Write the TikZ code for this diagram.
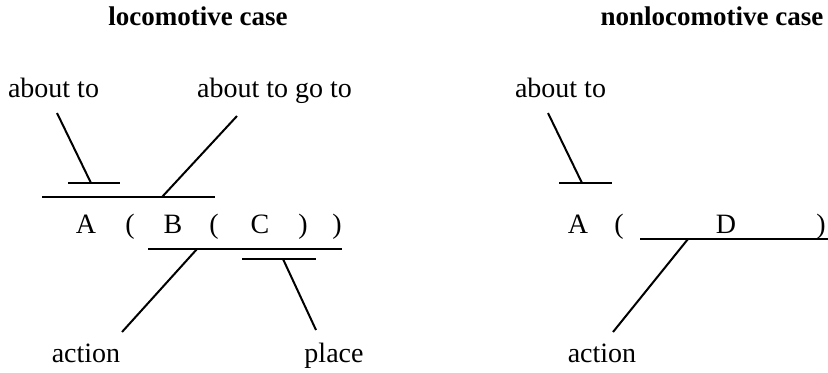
\documentclass[tikz,border=0pt]{standalone}
\usepackage{fontspec}
\setmainfont{Liberation Serif}
\tikzset{
  word/.style={anchor=base, inner sep=0pt, font=\fontsize{14}{16}\selectfont},
  head/.style={anchor=base, inner sep=0pt, font=\fontsize{13.5}{16}\selectfont\bfseries},
  bar/.style={line width=1pt},
}
\begin{document}
\begin{tikzpicture}[x=0.5pt, y=-0.5pt]
    \useasboundingbox (0,0) rectangle (828,372);
    \clip (0,0) rectangle (828,372);

    % Titles
    \node[head] (locT) at (198,25) {locomotive case};
    \node[head] (nonT) at (712,25) {nonlocomotive case};

    % Left case: labels
    \node[word] (aboutL) at (53.5,97) {about to};
    \node[word] (goto)   at (274.5,97) {about to go to};
    \node[word] (actL)   at (86,362) {action};
    \node[word] (place)  at (334,362) {place};

    % Left case: formula
    \node[word] (A1)  at (86,233)  {A};
    \node[word] (p1)  at (130,233) {(};
    \node[word] (B)   at (173,233) {B};
    \node[word] (p2)  at (214,233) {(};
    \node[word] (C)   at (260,233) {C};
    \node[word] (q2)  at (303,233) {)};
    \node[word] (q1)  at (337,233) {)};

    % Left case: bars and their stems
    \coordinate (aboutLtop) at (57,113);
    \coordinate (aboutLft)  at (91,183);
    \coordinate (gotoTop)   at (237,116);
    \coordinate (gotoFt)    at (162,197);
    \coordinate (actLft)    at (197,249);
    \coordinate (actLend)   at (122,332);
    \coordinate (placeFt)   at (283,259);
    \coordinate (placeEnd)  at (316,330);

    \draw[bar] (68,183) -- (120,183);
    \draw[bar] (42,197) -- (215,197);
    \draw[bar] (148,249) -- (342,249);
    \draw[bar] (242,259) -- (316,259);
    \draw[bar] (aboutLtop) -- (aboutLft);
    \draw[bar] (gotoTop) -- (gotoFt);
    \draw[bar] (actLft) -- (actLend);
    \draw[bar] (placeFt) -- (placeEnd);

    % Right case: labels
    \node[word] (aboutR) at (560.5,97) {about to};
    \node[word] (actR)   at (602,362) {action};

    % Right case: formula
    \node[word] (A2) at (578,233) {A};
    \node[word] (p3) at (619,233) {(};
    \node[word] (D)  at (726,233) {D};
    \node[word] (q3) at (821,233) {)};

    % Right case: bars and their stems
    \coordinate (aboutRtop) at (548,113);
    \coordinate (aboutRft)  at (582,183);
    \coordinate (actRft)    at (688,239);
    \coordinate (actRend)   at (613,332);

    \draw[bar] (559,183) -- (612,183);
    \draw[bar] (640,239) -- (840,239);
    \draw[bar] (aboutRtop) -- (aboutRft);
    \draw[bar] (actRft) -- (actRend);
\end{tikzpicture}
\end{document}
